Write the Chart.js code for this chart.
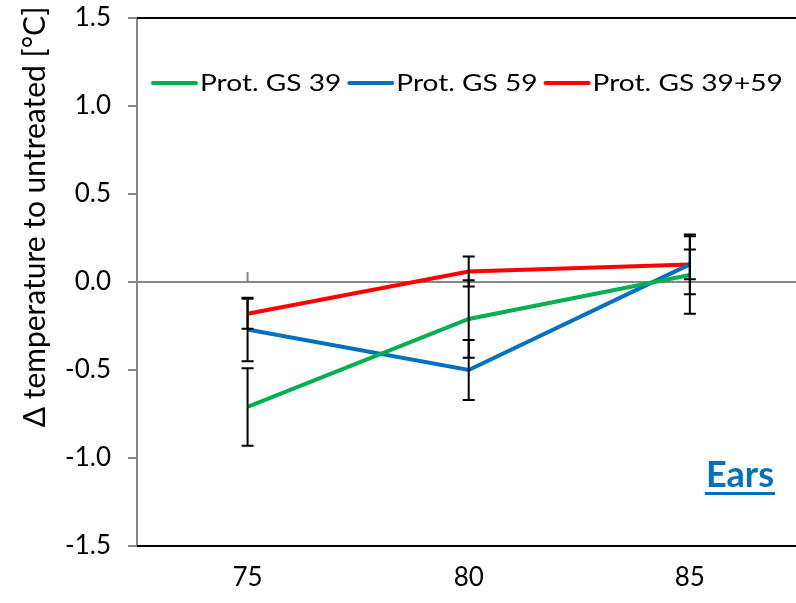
<!DOCTYPE html>
<html>
<head>
<meta charset="utf-8">
<script src="https://cdn.jsdelivr.net/npm/chart.js@4.4.1/dist/chart.umd.min.js"></script>
<style>
  html, body { margin: 0; padding: 0; background: #fff; }
  #wrap { width: 796px; height: 603px; position: relative; }
</style>
</head>
<body>
<div id="wrap"><canvas id="myChart" width="796" height="603"></canvas></div>
<script>
const xValues = [75, 80, 85];
const seriesLabels = ["Prot. GS 39", "Prot. GS 59", "Prot. GS 39+59"];
const seriesColors = ["#00B050", "#0070C0", "#FF0000"];
const gs39 = [-0.71, -0.21, 0.04];
const gs59 = [-0.27, -0.50, 0.10];
const gs3959 = [-0.18, 0.06, 0.10];
const err39 = [0.22, 0.22, 0.22];
const err59 = [0.18, 0.17, 0.17];
const err3959 = [0.085, 0.085, 0.085];
const yTicks = [-1.5, -1.0, -0.5, 0.0, 0.5, 1.0, 1.5];
const yTitle = "Δ temperature to untreated [°C]";
const panelLabel = "Ears";

const FONT = "Lato, 'Open Sans', sans-serif";
const seriesValues = [gs39, gs59, gs3959];
const seriesErrors = [err39, err59, err3959];

function toPoints(vals) {
    return xValues.map((x, i) => ({ x: x, y: vals[i] }));
}

// error bars, frame lines, legend, labels
const extras = {
    id: "extras",
    afterDatasetsDraw(chart) {
        const ctx = chart.ctx;
        const xs = chart.scales.x;
        const ys = chart.scales.y;
        const area = chart.chartArea;
        ctx.save();

        // little tick marks on the zero line
        ctx.strokeStyle = "#868686";
        ctx.lineWidth = 2;
        xValues.forEach(function (v) {
            let px = xs.getPixelForValue(v);
            ctx.beginPath();
            ctx.moveTo(px, ys.getPixelForValue(0) - 10);
            ctx.lineTo(px, ys.getPixelForValue(0));
            ctx.stroke();
        });

        // error bars
        ctx.strokeStyle = "#000";
        ctx.lineWidth = 2;
        seriesValues.forEach(function (vals, s) {
            vals.forEach(function (v, i) {
                let px = xs.getPixelForValue(xValues[i]);
                let top = ys.getPixelForValue(v + seriesErrors[s][i]);
                let bot = ys.getPixelForValue(v - seriesErrors[s][i]);
                ctx.beginPath();
                ctx.moveTo(px, top);
                ctx.lineTo(px, bot);
                ctx.moveTo(px - 6, top);
                ctx.lineTo(px + 6, top);
                ctx.moveTo(px - 6, bot);
                ctx.lineTo(px + 6, bot);
                ctx.stroke();
            });
        });

        // black frame top & bottom
        ctx.strokeStyle = "#000";
        ctx.lineWidth = 2;
        ctx.beginPath();
        ctx.moveTo(area.left, area.top);
        ctx.lineTo(chart.width, area.top);
        ctx.moveTo(area.left, area.bottom);
        ctx.lineTo(chart.width, area.bottom);
        ctx.stroke();

        // legend (text a bit wider than Lato, like the original)
        const stretch = 1.17;
        ctx.font = "24px " + FONT;
        ctx.textBaseline = "middle";
        ctx.textAlign = "left";
        let lx = 153;
        const ly = 83;
        seriesLabels.forEach(function (lab, s) {
            ctx.strokeStyle = seriesColors[s];
            ctx.lineWidth = 4;
            ctx.lineCap = "round";
            ctx.beginPath();
            ctx.moveTo(lx, ly);
            ctx.lineTo(lx + 43, ly);
            ctx.stroke();
            ctx.fillStyle = "#000";
            ctx.save();
            ctx.translate(lx + 47, ly);
            ctx.scale(stretch, 1);
            ctx.fillText(lab, 0, 0);
            ctx.restore();
            lx += 47 + ctx.measureText(lab).width * stretch + 8;
        });

        // y title
        ctx.save();
        ctx.translate(35, 217);
        ctx.rotate(-Math.PI / 2);
        ctx.font = "30px " + FONT;
        ctx.textAlign = "center";
        ctx.textBaseline = "middle";
        ctx.fillStyle = "#000";
        ctx.fillText(yTitle, 0, 0);
        ctx.restore();

        // panel label
        ctx.font = "bold 36px " + FONT;
        ctx.fillStyle = "#0070C0";
        ctx.textAlign = "center";
        ctx.textBaseline = "alphabetic";
        ctx.fillText(panelLabel, 740, 487);
        let w = ctx.measureText(panelLabel).width;
        ctx.fillRect(740 - w / 2 - 1, 492, w + 2, 3);

        ctx.restore();
    }
};

const chartConfig = {
    type: "line",
    data: {
        datasets: seriesLabels.map(function (lab, s) {
            return {
                label: lab,
                data: toPoints(seriesValues[s]),
                borderColor: seriesColors[s],
                backgroundColor: seriesColors[s],
                borderWidth: 4,
                pointRadius: 0,
                tension: 0
            };
        })
    },
    options: {
        responsive: false,
        animation: false,
        layout: { padding: { top: 18, right: 0, left: 0, bottom: 0 } },
        plugins: {
            legend: { display: false },
            tooltip: { enabled: false }
        },
        scales: {
            x: {
                type: "linear",
                min: 72.5,
                max: 87.4,
                afterBuildTicks: function (scale) {
                    scale.ticks = xValues.map(v => ({ value: v }));
                },
                afterFit: function (scale) {
                    scale.height = 57;
                    scale.paddingLeft = 0;
                    scale.paddingRight = 0;
                },
                grid: { display: false, drawTicks: false },
                border: { display: false },
                ticks: {
                    padding: 16,
                    color: "#000",
                    font: { family: FONT, size: 26 },
                    maxRotation: 0
                }
            },
            y: {
                min: -1.5,
                max: 1.5,
                afterBuildTicks: function (scale) {
                    scale.ticks = yTicks.map(v => ({ value: v }));
                },
                afterFit: function (scale) {
                    scale.width = 137;
                    scale.paddingTop = 0;
                    scale.paddingBottom = 0;
                },
                grid: {
                    color: c => (c.tick && c.tick.value === 0 ? "#868686" : "transparent"),
                    lineWidth: 2,
                    tickColor: "#868686",
                    tickLength: 9
                },
                border: { display: true, color: "#868686", width: 2 },
                ticks: {
                    padding: 17,
                    color: "#000",
                    font: { family: FONT, size: 26 },
                    callback: v => v.toFixed(1)
                }
            }
        }
    },
    plugins: [extras]
};

new Chart(document.getElementById("myChart"), chartConfig);
</script>
</body>
</html>
